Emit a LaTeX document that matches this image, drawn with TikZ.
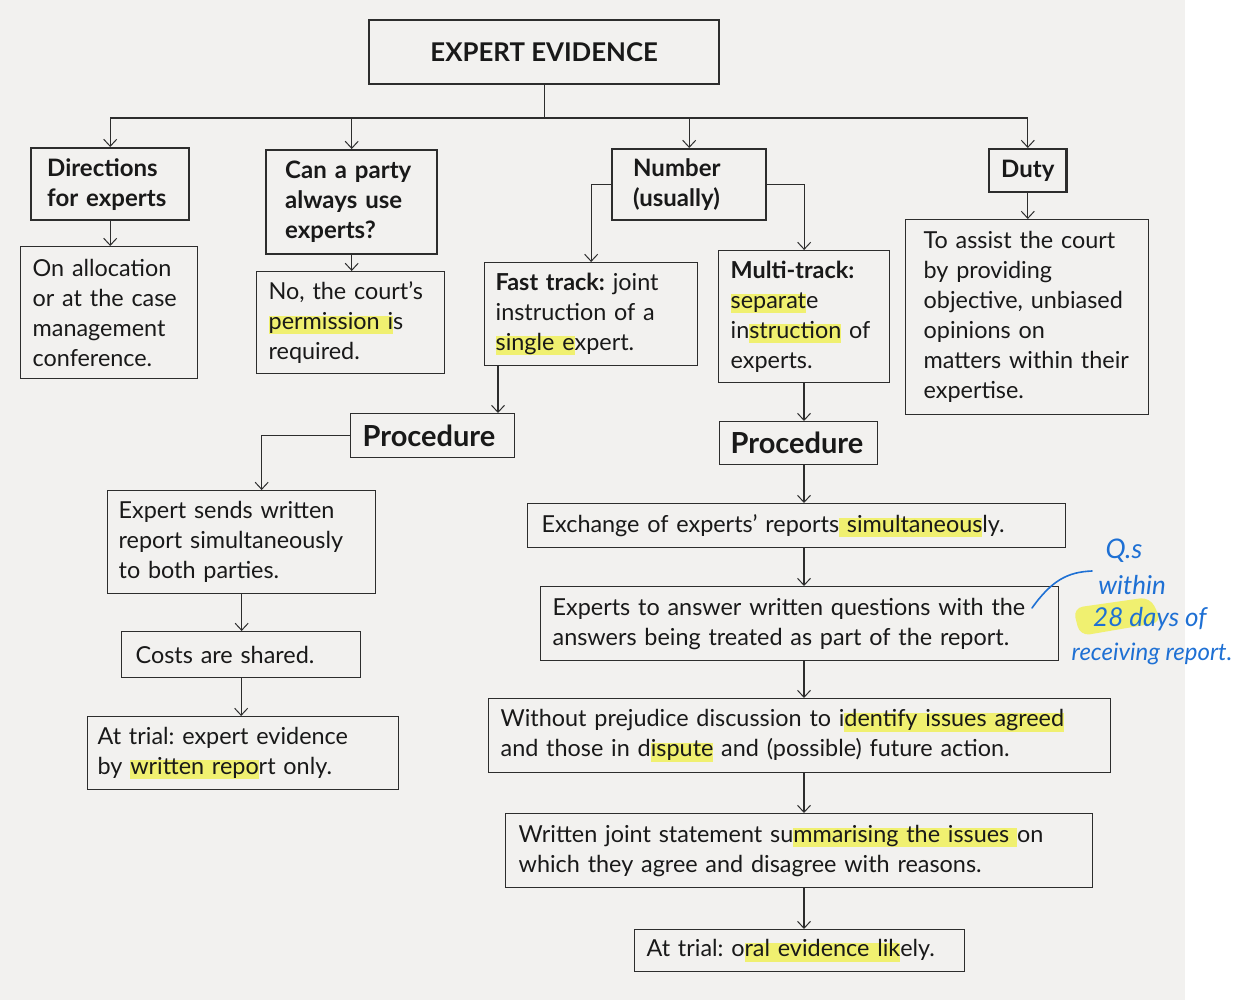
\documentclass[tikz,border=0pt]{standalone}
\usepackage{fontspec}
\setmainfont{Lato}
\usetikzlibrary{arrows.meta}
\definecolor{bg}{RGB}{242,241,239}
\definecolor{ln}{RGB}{45,45,45}
\definecolor{hly}{RGB}{240,240,112}
\definecolor{pen}{RGB}{30,112,212}
\newcommand\hl[1]{\leavevmode\begingroup\sbox0{#1}\rlap{\color{hly}\rule[-0.2em]{\wd0}{0.8em}}\usebox0\endgroup}
\frenchspacing
\tikzset{
  box/.style={draw=ln, line width=1.3pt, anchor=north west, inner ysep=0pt, inner xsep=12pt,
    align=left, font=\frenchspacing\fontsize{23.4}{30}\selectfont, text=black!90},
  hbox/.style={box, line width=2.4pt, font=\frenchspacing\bfseries\fontsize{24}{30}\selectfont},
  pbox/.style={box, font=\bfseries\fontsize{29}{30}\selectfont},
  arr/.style={draw=ln, line width=1.1pt, -{Straight Barb[length=7pt,width=13pt,line width=1pt]}},
  con/.style={draw=ln, line width=1.1pt}
}
\begin{document}
\begin{tikzpicture}[x=1pt,y=-1pt]
\useasboundingbox (0,0) rectangle (1253,1000);
\fill[white] (0,0) rectangle (1253,1000);
\fill[bg] (0,0) rectangle (1185,1000);

% top
\node[hbox, minimum width=350pt, minimum height=64pt, align=center, font=\bfseries\fontsize{25.8}{30}\selectfont] (ee) at (368,19) {EXPERT EVIDENCE};

% headers
\node[hbox, minimum width=158pt, minimum height=72pt, inner xsep=16pt, text width=126pt] (dir) at (30,147) {Directions\\for experts};
\node[hbox, minimum width=171pt, minimum height=104pt, inner xsep=19pt, text width=133pt] (party) at (265,149) {Can a party\\always use\\experts?};
\node[hbox, minimum width=154pt, minimum height=71pt, inner xsep=21pt, text width=112pt] (num) at (611,148) {Number\\(usually)};
\node[hbox, minimum width=77pt, minimum height=43pt, align=center] (duty) at (988,148) {Duty};

% second row
\node[box, minimum width=177pt, minimum height=132pt, text width=153pt] (alloc) at (20,246) {On allocation\\or at the case\\management\\conference.};
\node[box, minimum width=188pt, minimum height=102pt, text width=164pt] (perm) at (256,271) {No, the court’s\\\hl{permission i}s\\required.};
\node[box, minimum width=213pt, minimum height=103pt, inner xsep=11pt, text width=191pt] (fast) at (484,262) {\textbf{Fast track:} joint\\instruction of a\\\hl{single e}xpert.};
\node[box, minimum width=171pt, minimum height=132pt, text width=147pt] (multi) at (718,250) {\textbf{Multi-track:}\\\hl{separat}e\\in\hl{struction} of\\experts.};
\node[box, minimum width=243pt, minimum height=195pt, inner xsep=18pt, text width=207pt] (dutyb) at (905,219) {To assist the court\\by providing\\objective, unbiased\\opinions on\\matters within their\\expertise.};

% procedures
\node[pbox, minimum width=164pt, minimum height=44pt, text width=140pt] (procL) at (350,413) {Procedure};
\node[pbox, minimum width=158pt, minimum height=43pt, inner xsep=11pt, text width=136pt] (procR) at (719,421) {Procedure};

% left column
\node[box, minimum width=268pt, minimum height=103pt, inner xsep=11pt, text width=246pt] (sends) at (107,490) {Expert sends written\\report simultaneously\\to both parties.};
\node[box, minimum width=239pt, minimum height=46pt, inner xsep=14pt, text width=211pt] (costs) at (121,631) {Costs are shared.};
\node[box, minimum width=311pt, minimum height=73pt, inner xsep=10pt, text width=291pt] (trialL) at (87,716) {At trial: expert evidence\\by \hl{written repo}rt only.};

% right column
\node[box, minimum width=538pt, minimum height=44pt, inner xsep=14pt, text width=510pt] (exch) at (527,503) {Exchange of experts’ reports\hl{ simultaneous}ly.};
\node[box, minimum width=518pt, minimum height=74pt, text width=494pt] (answ) at (540,586) {Experts to answer written questions with the\\answers being treated as part of the report.};
\node[box, minimum width=622pt, minimum height=74pt, text width=598pt] (wp) at (488,698) {Without prejudice discussion to i\hl{dentify issues a}\hl{greed}\\and those in d\hl{ispute} and (possible) future action.};
\node[box, minimum width=587pt, minimum height=74pt, inner xsep=13pt, text width=561pt] (joint) at (505,813) {Written joint statement su\hl{mmarising the issues }on\\which they agree and disagree with reasons.};
\node[box, minimum width=330pt, minimum height=42pt, text width=306pt] (trialR) at (634,929) {At trial: o\hl{ral evidence lik}ely.};

% connectors from top
\coordinate (bus) at (ee.south |- 0,118);
\draw[con] (ee.south) -- (bus);
\draw[arr] (bus) -| (dir.north);
\draw[arr] (bus) -| (party.north);
\draw[arr] (bus) -| (num.north);
\draw[arr] (bus) -| (duty.north);

\draw[arr] (dir.south) -- (dir.south |- alloc.north);
\draw[arr] (party.south) -- (party.south |- perm.north);
\draw[arr] (duty.south) -- (duty.south |- dutyb.north);
\draw[arr] (num.west) -| (fast.north);
\draw[arr] (num.east) -| (multi.north);

% left procedure
\draw[arr] ([xshift=14pt]fast.south west) -- ([xshift=14pt]fast.south west |- procL.north);
\draw[arr] (procL.west) -| ([xshift=20pt]sends.north);
\draw[arr] (sends.south) -- (sends.south |- costs.north);
\draw[arr] (costs.south) -- (costs.south |- trialL.north);

% right procedure
\coordinate (col) at (804,0);
\draw[arr] (col |- multi.south) -- (col |- procR.north);
\draw[arr] (col |- procR.south) -- (col |- exch.north);
\draw[arr] (col |- exch.south) -- (col |- answ.north);
\draw[arr] (col |- answ.south) -- (col |- wp.north);
\draw[arr] (col |- wp.south) -- (col |- joint.north);
\draw[arr] (col |- joint.south) -- (col |- trialR.north);

% handwritten note
\fill[hly, rounded corners=10pt] (1073,608) -- (1150,597) -- (1162,622) -- (1080,636) -- cycle;
\node[text=pen, font=\itshape\fontsize{27}{28}\selectfont] (n1) at (1124,551) {Q.s};
\node[text=pen, font=\itshape\fontsize{26}{28}\selectfont] (n2) at (1132,585) {within};
\node[text=pen, font=\itshape\fontsize{26}{28}\selectfont] (n3) at (1150,619) {28 days of};
\node[text=pen, font=\itshape\fontsize{24}{28}\selectfont] (n4) at (1152,654) {receiving report.};
\draw[pen, line width=1.6pt, line cap=round] (1032,608) .. controls (1052,580) and (1068,572) .. (1092,571);
\end{tikzpicture}
\end{document}
